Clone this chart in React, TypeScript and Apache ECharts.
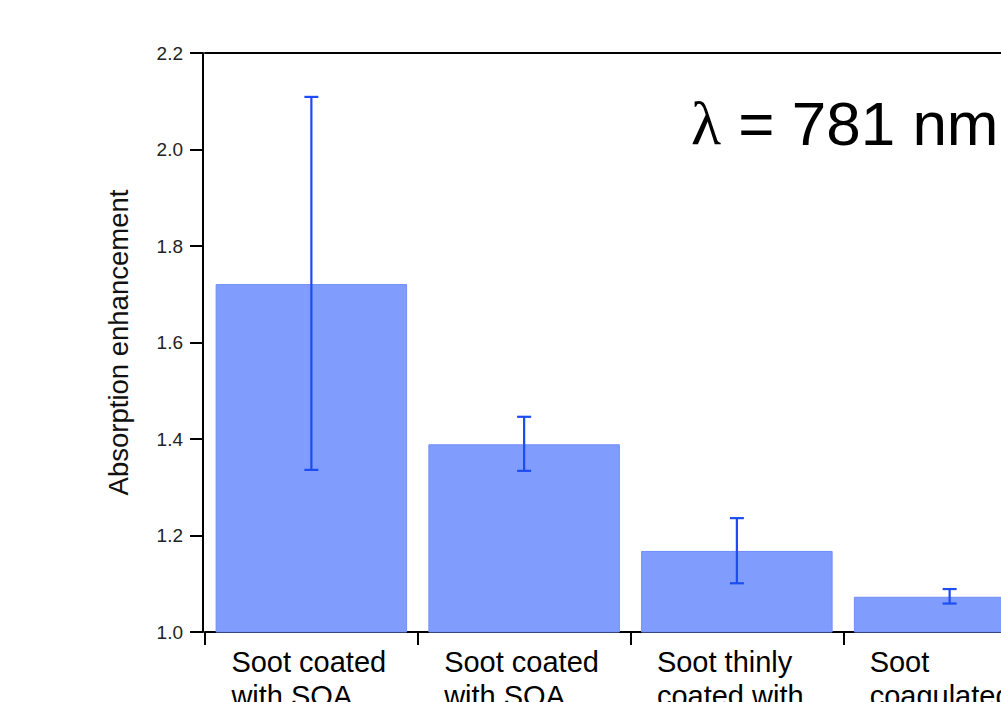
import React, { useEffect, useRef } from "react";
import * as echarts from "echarts";

const categories = [
  "Soot coated\nwith SOA",
  "Soot coated\nwith SOA",
  "Soot thinly\ncoated with",
  "Soot\ncoagulated",
];
const enhancement = [1.721, 1.389, 1.168, 1.073];
const errLow = [1.336, 1.334, 1.101, 1.059];
const errHigh = [2.109, 1.446, 1.236, 1.089];
const yTicks = { min: 1.0, max: 2.2, interval: 0.2 };
const yName = "Absorption enhancement";

const FONT = "'Liberation Sans', Arial, Helvetica, sans-serif";

export default function App() {
  const ref = useRef<HTMLDivElement>(null);
  useEffect(() => {
    if (!ref.current) return;
    const chart = echarts.init(ref.current, null, { renderer: "svg" });
    const errData = categories.map((_, i) => [i, errLow[i], errHigh[i]]);
    chart.setOption({
      animation: false,
      backgroundColor: "#ffffff",
      title: {
        text: "{l|λ} = 781 nm",
        left: 686,
        top: 87,
        textStyle: {
          fontFamily: FONT,
          fontSize: 62,
          fontWeight: "normal",
          color: "#000",
          rich: {
            l: { fontFamily: "'Liberation Serif', 'DejaVu Serif', serif", fontSize: 62, color: "#000" },
          },
        },
      },
      grid: { left: 205, top: 53, width: 851, height: 579, containLabel: false, outerBoundsMode: "none" },
      xAxis: [
        {
          type: "category",
          data: categories,
          position: "bottom",
          axisLine: { show: true, lineStyle: { color: "#000", width: 2 } },
          axisTick: { show: true, length: 13, lineStyle: { color: "#000", width: 2 } },
          axisLabel: {
            interval: 0,
            margin: 13,
            color: "#000",
            fontFamily: FONT,
            fontSize: 29,
            formatter: (v: string) => v.split("\n").map((l) => `{a|${l}}`).join("\n"),
            rich: {
              a: { width: 160, align: "left", fontSize: 29, lineHeight: 34, fontFamily: FONT, color: "#000" },
            },
          },
          splitLine: { show: false },
        },
        {
          type: "category",
          data: categories,
          position: "top",
          axisLine: { show: true, lineStyle: { color: "#000", width: 2 } },
          axisTick: { show: false },
          axisLabel: { show: false },
        },
      ],
      yAxis: {
        type: "value",
        min: yTicks.min,
        max: yTicks.max,
        interval: yTicks.interval,
        offset: 2,
        name: yName,
        nameLocation: "middle",
        nameRotate: 90,
        nameGap: 71,
        nameTextStyle: { fontFamily: FONT, fontSize: 27.5, color: "#111" },
        axisLine: { show: true, lineStyle: { color: "#000", width: 2 } },
        axisTick: { show: true, length: 13, lineStyle: { color: "#000", width: 2 } },
        axisLabel: {
          margin: 20,
          color: "#222",
          fontFamily: FONT,
          fontSize: 19,
          formatter: (v: number) => v.toFixed(1),
        },
        splitLine: { show: false },
      },
      series: [
        {
          type: "bar",
          xAxisIndex: 0,
          data: enhancement,
          barWidth: "90%",
          itemStyle: { color: "#809dfd", borderColor: "#6f8ef8", borderWidth: 1 },
          z: 2,
        },
        {
          type: "custom",
          xAxisIndex: 0,
          data: errData,
          encode: { x: 0, y: [1, 2] },
          z: 5,
          renderItem: (params: any, api: any) => {
            const i = api.value(0);
            const lo = api.coord([i, api.value(1)]);
            const hi = api.coord([i, api.value(2)]);
            const half = 7;
            const style = { stroke: "#1c4cf2", lineWidth: 2.2 };
            return {
              type: "group",
              children: [
                { type: "line", shape: { x1: lo[0], y1: hi[1], x2: lo[0], y2: lo[1] }, style },
                { type: "line", shape: { x1: lo[0] - half, y1: hi[1], x2: lo[0] + half, y2: hi[1] }, style },
                { type: "line", shape: { x1: lo[0] - half, y1: lo[1], x2: lo[0] + half, y2: lo[1] }, style },
              ],
            };
          },
        },
      ],
    });
    return () => chart.dispose();
  }, []);
  return (
    <div style={{ position: "absolute", left: 0, top: 0, width: 1001, height: 702, overflow: "hidden", background: "#fff" }}>
      <div ref={ref} style={{ width: 1200, height: 702 }} />
    </div>
  );
}
